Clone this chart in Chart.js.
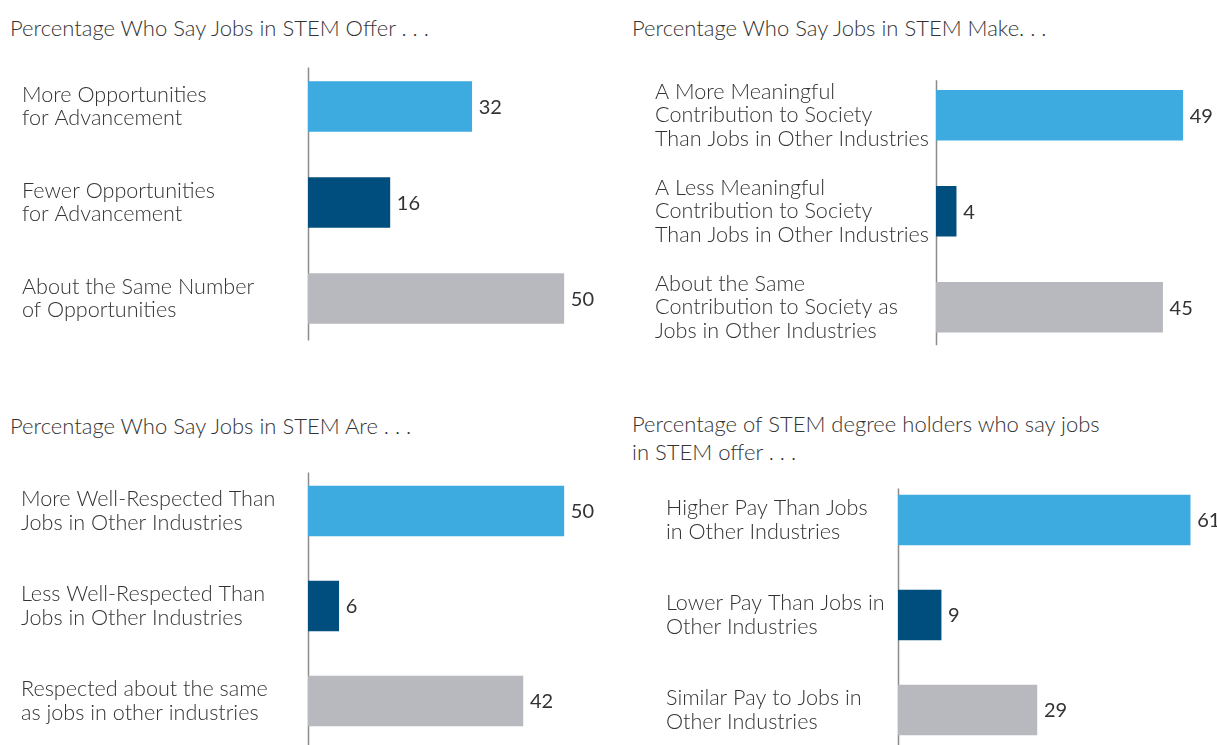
<!DOCTYPE html>
<html>
<head>
<meta charset="utf-8">
<script src="https://cdn.jsdelivr.net/npm/chart.js@4.4.1/dist/chart.umd.min.js"></script>
<style>
  html, body { margin: 0; padding: 0; background: #fff; }
  body { width: 1217px; height: 745px; position: relative; overflow: hidden; font-family: Lato, "Open Sans", sans-serif; }
  .title { position: absolute; font-size: 22px; color: #333; line-height: 28px; font-weight: 300; white-space: nowrap; }
  .box { position: absolute; }
</style>
</head>
<body>
<div class="title" style="left:10px; top:14px;">Percentage Who Say Jobs in STEM Offer . . .</div>
<div class="title" style="left:632px; top:14px;">Percentage Who Say Jobs in STEM Make. . .</div>
<div class="title" style="left:10px; top:412px;">Percentage Who Say Jobs in STEM Are . . .</div>
<div class="title" style="left:632px; top:410px;">Percentage of STEM degree holders who say jobs<br>in STEM offer . . .</div>

<!-- the canvases are taller than the bar area: Chart.js keeps half a label height free above and below -->
<div class="box" style="left:22px; top:34.5px; width:593px; height:335px;"><canvas id="chart_offer"></canvas></div>
<div class="box" style="left:655px; top:31.75px; width:563px; height:358.5px;"><canvas id="chart_make"></canvas></div>
<div class="box" style="left:21px; top:439.5px; width:594px; height:332px;"><canvas id="chart_are"></canvas></div>
<div class="box" style="left:666px; top:448.5px; width:551px; height:332px;"><canvas id="chart_pay"></canvas></div>

<script>
// data
const offerLabels = [["More Opportunities", "for Advancement"], ["Fewer Opportunities", "for Advancement"], ["About the Same Number", "of Opportunities"]];
const offerValues = [32, 16, 50];

const makeLabels = [["A More Meaningful", "Contribution to Society", "Than Jobs in Other Industries"],
                    ["A Less Meaningful", "Contribution to Society", "Than Jobs in Other Industries"],
                    ["About the Same", "Contribution to Society as", "Jobs in Other Industries"]];
const makeValues = [49, 4, 45];

const areLabels = [["More Well-Respected Than", "Jobs in Other Industries"], ["Less Well-Respected Than", "Jobs in Other Industries"], ["Respected about the same", "as jobs in other industries"]];
const areValues = [50, 6, 42];

const payLabels = [["Higher Pay Than Jobs", "in Other Industries"], ["Lower Pay Than Jobs in", "Other Industries"], ["Similar Pay to Jobs in", "Other Industries"]];
const payValues = [61, 9, 29];

const barColors = ['#3DAAE0', '#004E7D', '#B8B9BE'];

// value labels at the end of each bar
const valueLabels = {
    id: 'valueLabels',
    afterDatasetsDraw(chart) {
        var ctx = chart.ctx;
        var meta = chart.getDatasetMeta(0);
        ctx.save();
        ctx.font = '400 20px Lato, "Open Sans", sans-serif';
        ctx.fillStyle = '#333';
        ctx.textBaseline = 'middle';
        ctx.textAlign = 'left';
        meta.data.forEach(function(bar, i){
            ctx.fillText(chart.data.datasets[0].data[i], bar.x + 7, bar.y + 1);
        });
        ctx.restore();
    }
};

// vertical axis line
const axisLine = {
    id: 'axisLine',
    beforeDatasetsDraw(chart, args, opts) {
        var ctx = chart.ctx;
        var a = chart.chartArea;
        ctx.save();
        ctx.strokeStyle = '#8c8c8c';
        ctx.lineWidth = 1.5;
        ctx.beginPath();
        ctx.moveTo(a.left + 0.5, a.top + (opts.inset || 0));
        ctx.lineTo(a.left + 0.5, a.bottom - (opts.insetBottom || 0));
        ctx.stroke();
        ctx.restore();
    }
};

function makeChart(id, labels, values, axisWidth, xMax, inset, insetBottom){
    var ctx = document.getElementById(id).getContext('2d');
    return new Chart(ctx, {
        type: 'bar',
        data: {
            labels: labels,
            datasets: [{
                data: values,
                backgroundColor: barColors,
                borderWidth: 0,
                barThickness: 50
            }]
        },
        options: {
            indexAxis: 'y',
            responsive: true,
            maintainAspectRatio: false,
            animation: false,
            layout: { padding: 0 },
            plugins: {
                legend: { display: false },
                tooltip: { enabled: false },
                axisLine: { inset: inset, insetBottom: insetBottom }
            },
            scales: {
                x: { display: false, min: 0, max: xMax },
                y: {
                    grid: { display: false },
                    border: { display: false },
                    afterFit: function(scale){ scale.width = axisWidth; },
                    ticks: {
                        crossAlign: 'far',
                        color: '#333',
                        padding: 0,
                        font: { family: 'Lato, "Open Sans", sans-serif', size: 21.6, weight: 300, lineHeight: '23.5px' }
                    }
                }
            }
        },
        plugins: [valueLabels, axisLine]
    });
}

makeChart('chart_offer', offerLabels, offerValues, 286, 60, 9, 6);
makeChart('chart_make', makeLabels, makeValues, 281, 56, 13, 10);
makeChart('chart_are', areLabels, areValues, 287, 60, 9, 0);
makeChart('chart_pay', payLabels, payValues, 232, 66.6, 16, 0);
</script>
</body>
</html>
